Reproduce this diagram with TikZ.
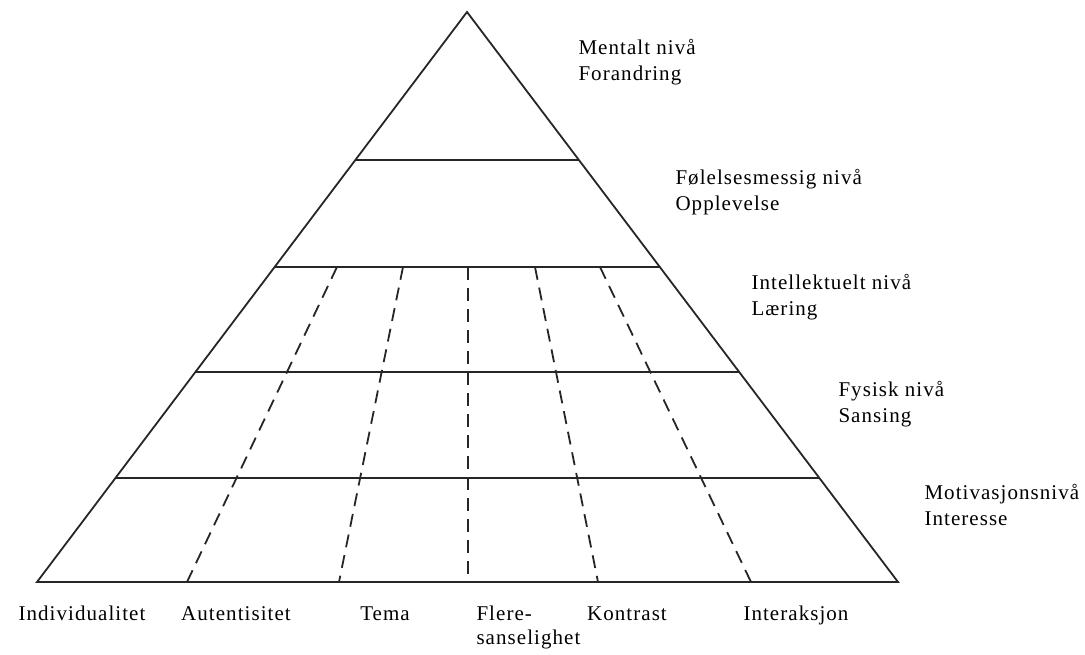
\documentclass[tikz,border=0pt]{standalone}
\usepackage{fontspec}
\setmainfont{Liberation Serif}[LetterSpace=5]
\usetikzlibrary{positioning,calc}

\begin{document}
\begin{tikzpicture}[x=1pt, y=-1pt]
        % Define styles
        \tikzset{
            edge/.style={draw=black!85, line width=1.8pt},
            split/.style={draw=black!85, line width=1.8pt, dash pattern=on 13pt off 8pt},
            level/.style={anchor=base west, align=left, font=\fontsize{21}{26}\selectfont},
            topic/.style={anchor=base, align=left, font=\fontsize{21}{24}\selectfont}
        }
        \useasboundingbox (0,0) rectangle (1085,654);

        % Place corners of the pyramid
        \node[coordinate] (apex) at (467,12) {};
        \node[coordinate] (bl) at (37,582) {};
        \node[coordinate] (br) at (898,582) {};

        % Level boundaries on both sides
        \foreach \t [count=\i] in {0.2596,0.4474,0.6316,0.8175} {
            \node[coordinate] (l\i) at ($(apex)!\t!(bl)$) {};
            \node[coordinate] (r\i) at ($(apex)!\t!(br)$) {};
        }

        % Upper and lower ends of the dashed dividers
        \foreach \xa/\xb [count=\i] in {337/187, 403/339, 468/468, 535/598, 600/751} {
            \node[coordinate] (d\i) at (\xa,267) {};
            \node[coordinate] (e\i) at (\xb,582) {};
        }

        % Draw the pyramid
        \draw[edge, line join=miter] (apex) -- (br) -- (bl) -- cycle;
        \foreach \i in {1,...,4}
            \draw[edge] (l\i) -- (r\i);
        \foreach \i in {1,...,5}
            \draw[split] (d\i) -- (e\i);

        % Level labels (base = second line)
        \node[level] (mental) at (575,80) {Mentalt nivå\\Forandring};
        \node[level] (emotion) at (672,210) {Følelsesmessig nivå\\Opplevelse};
        \node[level] (intellect) at (748,315) {Intellektuelt nivå\\Læring};
        \node[level] (physical) at (835,422) {Fysisk nivå\\Sansing};
        \node[level] (motivation) at (921,525) {Motivasjonsnivå\\Interesse};

        % Topic labels below the base
        \node[topic] (indiv) at (82,620) {Individualitet};
        \node[topic] (auth) at (236,620) {Autentisitet};
        \node[topic] (theme) at (385,620) {Tema};
        \node[topic, anchor=base west] (senses) at (473,644) {Flere-\\sanselighet};
        \node[topic] (contrast) at (627,620) {Kontrast};
        \node[topic] (interact) at (796,620) {Interaksjon};
    \end{tikzpicture}
\end{document}
